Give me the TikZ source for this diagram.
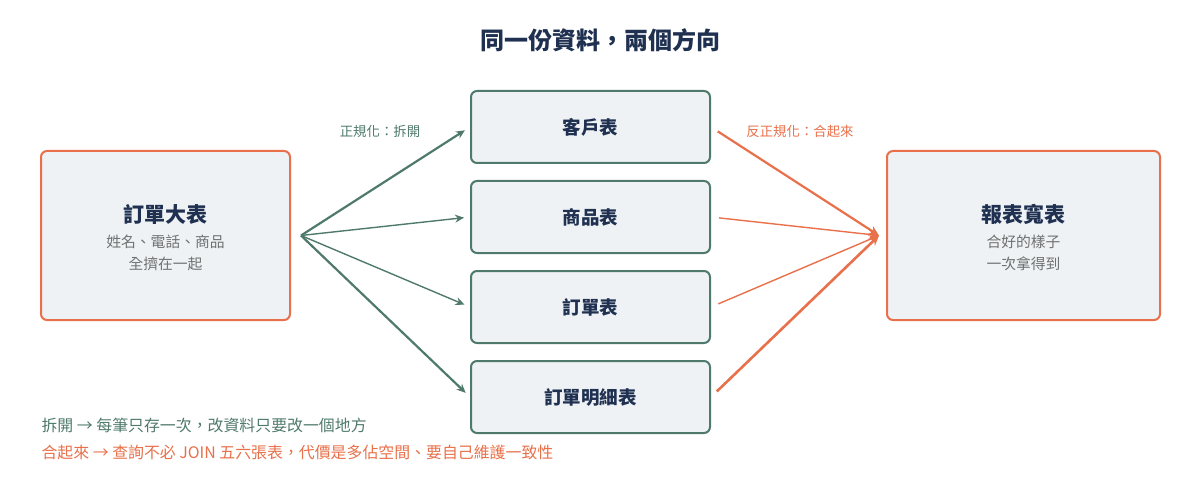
\documentclass[tikz,border=0pt]{standalone}
\usepackage{fontspec}
\setmainfont{Noto Sans CJK TC}
\usetikzlibrary{positioning,arrows.meta}
\definecolor{splitc}{HTML}{4F7A6B}
\definecolor{joinc}{HTML}{E8704A}
\definecolor{boxfill}{HTML}{EEF2F5}
\definecolor{titlec}{HTML}{1F3050}
\definecolor{subc}{HTML}{707070}
\tikzset{
  bigbox/.style={draw=joinc, line width=2pt, fill=boxfill, rounded corners=6pt, minimum width=249pt, minimum height=169pt},
  boxhead/.style={font=\fontsize{21}{26}\selectfont\bfseries, text=titlec},
  boxsub/.style={font=\fontsize{14.8}{22}\selectfont, text=subc, align=center},
  tblbox/.style={draw=splitc, line width=2pt, fill=boxfill, rounded corners=6pt, minimum width=239pt, minimum height=72pt, font=\fontsize{18.5}{22}\selectfont\bfseries, text=titlec},
  split/.style={draw=splitc, -{Stealth[length=9pt,width=8pt]}, shorten >=6pt},
  merge/.style={draw=joinc, -{Stealth[length=10pt,width=9pt]}, shorten <=8pt}
}
\begin{document}
\begin{tikzpicture}[x=1pt,y=-1pt]
  \useasboundingbox (0,0) rectangle (1200,492);

  \node[font=\fontsize{24}{28}\selectfont\bfseries, text=titlec] (title) at (600,40) {同一份資料，兩個方向};

  % boxes
  \node[bigbox] (order) at (165.5,235.5) {};
  \node[boxhead] (orderhead) at (165.5,214) {訂單大表};
  \node[boxsub] (ordersub) at (165.5,253) {姓名、電話、商品\\全擠在一起};
  \node[bigbox, minimum width=273pt] (report) at (1023.5,235.5) {};
  \node[boxhead] (reporthead) at (1023.5,214) {報表寬表};
  \node[boxsub] (reportsub) at (1023.5,253) {合好的樣子\\一次拿得到};
  \node[tblbox] (cust) at (590.5,127) {客戶表};
  \node[tblbox] (prod) at (590.5,217) {商品表};
  \node[tblbox] (ord) at (590.5,307) {訂單表};
  \node[tblbox] (item) at (590.5,397) {訂單明細表};
  \coordinate (fork) at ([xshift=10pt]order.east);
  \coordinate (join) at ([xshift=-7pt]report.west);

  % split arrows
  \draw[split, line width=2.2pt] (fork) -- (cust.west);
  \draw[split, line width=1.4pt] (fork) -- (prod.west);
  \draw[split, line width=1.4pt] (fork) -- (ord.west);
  \draw[split, line width=2.2pt] (fork) -- (item.west);

  % merge arrows
  \draw[merge, line width=2.2pt] (cust.east) -- (join);
  \draw[merge, line width=1.4pt] (prod.east) -- (join);
  \draw[merge, line width=1.4pt] (ord.east) -- (join);
  \draw[merge, line width=2.6pt] (item.east) -- (join);

  % labels
  \node[font=\fontsize{13.4}{16}\selectfont, text=splitc] (splitlbl) at (380,131) {正規化：拆開};
  \node[font=\fontsize{13.4}{16}\selectfont, text=joinc] (joinlbl) at (800,131) {反正規化：合起來};
  \node[font=\fontsize{15.9}{18}\selectfont, text=splitc, anchor=west] (note1) at (38,425) {拆開 → 每筆只存一次，改資料只要改一個地方};
  \node[font=\fontsize{15.9}{18}\selectfont, text=joinc, anchor=west] (note2) at (38,452) {合起來 → 查詢不必 JOIN 五六張表，代價是多佔空間、要自己維護一致性};
\end{tikzpicture}
\end{document}
